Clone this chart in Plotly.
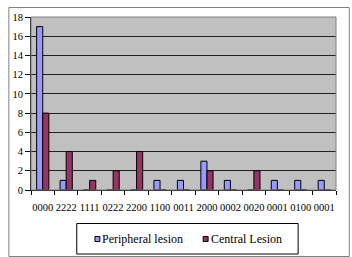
import plotly.graph_objects as go

categories = ["0000", "2222", "1111", "0222", "2200", "1100", "0011",
              "2000", "0002", "0020", "0001", "0100", "0001"]
peripheral = [17, 1, 0, 0, 0, 1, 1, 3, 1, 0, 1, 1, 1]
central = [8, 4, 1, 2, 4, 0, 0, 2, 0, 2, 0, 0, 0]
y_ticks = [0, 2, 4, 6, 8, 10, 12, 14, 16, 18]
series_names = ["Peripheral lesion", "Central Lesion"]
series_colors = ["#9999FF", "#993366"]

x = list(range(len(categories)))
font = "Liberation Serif"

W, H = 352, 257
ml, mr, mt, mb = 26, 16, 17, 67
pw, ph = W - ml - mr, H - mt - mb


def px(xp):
    return (xp - ml) / pw


def py(yp):
    return (H - mb - yp) / ph


fig = go.Figure()
for name, vals, col in zip(series_names, [peripheral, central], series_colors):
    fig.add_trace(go.Bar(x=x, y=vals, name=name, showlegend=False,
                         marker=dict(color=col, line=dict(color="black", width=1))))

shapes = [
    dict(type="rect", xref="paper", yref="paper", x0=px(3.5), x1=px(349.5), y0=py(256.5), y1=py(7.5),
         line=dict(color="#808080", width=1), layer="below"),
    dict(type="rect", xref="paper", yref="paper", x0=px(72.5), x1=px(297.5), y0=py(254), y1=py(223.5),
         line=dict(color="black", width=1)),
    dict(type="rect", xref="paper", yref="paper", x0=0, x1=1, y0=0, y1=1,
         line=dict(color="#808080", width=1)),
]
annotations = []
legend_sq_x = [91, 201]
for name, col, sx in zip(series_names, series_colors, legend_sq_x):
    shapes.append(dict(type="rect", xref="paper", yref="paper", x0=px(sx), x1=px(sx + 5),
                       y0=py(241.5), y1=py(236.5), fillcolor=col, line=dict(color="black", width=1)))
    annotations.append(dict(text=name, xref="paper", yref="paper", x=px(sx + 5.5), y=py(239),
                            xanchor="left", yanchor="middle", showarrow=False,
                            font=dict(family=font, size=12, color="black")))

fig.update_layout(
    width=W, height=H,
    margin=dict(l=ml, r=mr, t=mt, b=mb),
    paper_bgcolor="white", plot_bgcolor="#C0C0C0",
    barmode="group", bargap=0.48, bargroupgap=0,
    font=dict(family=font, size=10, color="black"),
    showlegend=False,
    shapes=shapes, annotations=annotations,
)
fig.update_xaxes(
    range=[-0.5, len(categories) - 0.5], tickmode="array", tickvals=x, ticktext=categories,
    ticks="outside", ticklen=7, tickcolor="rgba(0,0,0,0)", showgrid=False,
    tickfont=dict(size=10.5, family=font),
    showline=True, linecolor="black", linewidth=1, mirror=False,
    minor=dict(tickmode="linear", tick0=-0.5, dtick=1, ticks="outside", ticklen=4,
               tickcolor="black", showgrid=False),
)
fig.update_yaxes(
    range=[0, 18], tickmode="array", tickvals=y_ticks, ticks="outside", ticklen=5,
    tickcolor="black", showgrid=True, gridcolor="#222222", gridwidth=1,
    showline=True, linecolor="black", linewidth=1, zeroline=False,
    tickfont=dict(size=10.5, family=font),
)
fig.write_html("out.html")
